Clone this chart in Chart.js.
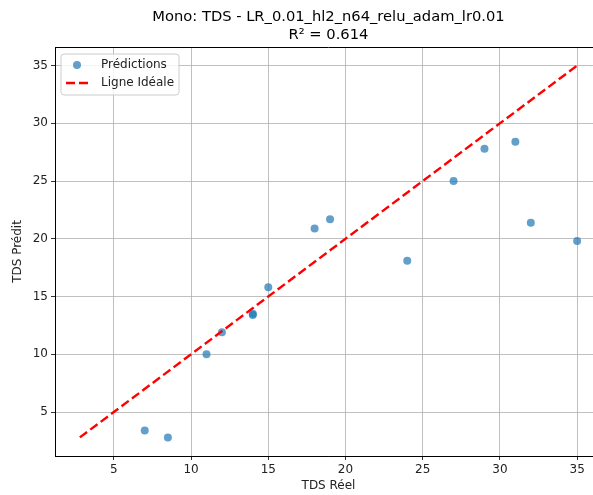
<!DOCTYPE html>
<html>
<head>
<meta charset="utf-8">
<script src="https://cdn.jsdelivr.net/npm/chart.js@4"></script>
<style>
  html, body { margin: 0; padding: 0; background: #fff; overflow: hidden; }
  #wrap { position: relative; width: 610px; height: 495px; }
</style>
</head>
<body>
<div id="wrap"><canvas id="chart" width="610" height="495"></canvas></div>
<script>
const titleLines = ["Mono: TDS - LR_0.01_hl2_n64_relu_adam_lr0.01", "R² = 0.614"];
const xLabel = "TDS Réel";
const yLabel = "TDS Prédit";
const legendLabels = ["Prédictions", "Ligne Idéale"];

// values
const actual    = [7, 8.5, 11, 12, 14, 14, 15, 18, 19, 24, 27, 29, 31, 32, 35];
const predicted = [3.4, 2.8, 10.0, 11.9, 13.4, 13.5, 15.8, 20.9, 21.7, 18.1, 25.0, 27.8, 28.4, 21.4, 19.8];
const idealEnds = [2.8, 35];
const xTicks = [5, 10, 15, 20, 25, 30, 35];
const yTicks = [5, 10, 15, 20, 25, 30, 35];
const axisMin = 1.19, axisMax = 36.61;

const FONT = "'DejaVu Sans', sans-serif";
const blue = "rgba(31,119,180,0.7)";

// title + legend + top/right spines
const decor = {
  id: "decor",
  afterDraw(chart) {
    const { ctx, chartArea: a } = chart;
    ctx.save();
    ctx.strokeStyle = "#000";
    ctx.lineWidth = 1;
    ctx.beginPath();
    ctx.moveTo(a.left, a.top + 0.5);
    ctx.lineTo(a.right, a.top + 0.5);
    ctx.lineTo(a.right, a.bottom);
    ctx.stroke();

    ctx.fillStyle = "#000";
    ctx.font = "14.7px " + FONT;
    ctx.textAlign = "center";
    ctx.textBaseline = "middle";
    const cx = (a.left + a.right) / 2;
    ctx.fillText(titleLines[0], cx, 17);
    ctx.fillText(titleLines[1], cx, 35);

    // legend box
    const bx = 61, by = 54, bw = 118, bh = 41, r = 3;
    ctx.beginPath();
    ctx.moveTo(bx + r, by);
    ctx.arcTo(bx + bw, by, bx + bw, by + bh, r);
    ctx.arcTo(bx + bw, by + bh, bx, by + bh, r);
    ctx.arcTo(bx, by + bh, bx, by, r);
    ctx.arcTo(bx, by, bx + bw, by, r);
    ctx.closePath();
    ctx.fillStyle = "rgba(255,255,255,0.8)";
    ctx.fill();
    ctx.strokeStyle = "#cccccc";
    ctx.lineWidth = 1;
    ctx.stroke();

    ctx.beginPath();
    ctx.arc(77, 65, 4, 0, Math.PI * 2);
    ctx.fillStyle = blue;
    ctx.fill();

    ctx.beginPath();
    ctx.setLineDash([9, 4]);
    ctx.strokeStyle = "#ff0000";
    ctx.lineWidth = 2.4;
    ctx.moveTo(66, 83);
    ctx.lineTo(89, 83);
    ctx.stroke();
    ctx.setLineDash([]);

    ctx.fillStyle = "#222";
    ctx.font = "12px " + FONT;
    ctx.textAlign = "left";
    ctx.fillText(legendLabels[0], 101, 65);
    ctx.fillText(legendLabels[1], 101, 83);
    ctx.restore();
  }
};

const axisCommon = {
  type: "linear",
  min: axisMin,
  max: axisMax,
  border: { color: "#000", width: 1 },
  grid: { color: "#b0b0b0", lineWidth: 0.8, tickLength: 4, tickColor: "#000" },
  ticks: { color: "#222", font: { family: FONT, size: 12 }, padding: 3 },
};

new Chart(document.getElementById("chart"), {
  type: "scatter",
  data: {
    datasets: [
      {
        label: legendLabels[1],
        type: "line",
        data: idealEnds.map(v => ({ x: v, y: v })),
        borderColor: "#ff0000",
        borderWidth: 2.4,
        borderDash: [9, 4],
        pointRadius: 0,
        fill: false,
        order: 0,
      },
      {
        label: legendLabels[0],
        data: actual.map((v, i) => ({ x: v, y: predicted[i] })),
        backgroundColor: blue,
        borderWidth: 0,
        pointRadius: 4,
        order: 1,
      },
    ],
  },
  options: {
    responsive: false,
    animation: false,
    layout: { padding: { top: 47, right: 8, left: 0, bottom: 0 } },
    plugins: { legend: { display: false }, title: { display: false }, tooltip: { enabled: false } },
    scales: {
      x: {
        ...axisCommon,
        title: { display: true, text: xLabel, color: "#222", font: { family: FONT, size: 12 }, padding: { top: 0, bottom: 2 } },
        afterBuildTicks: s => { s.ticks = xTicks.map(v => ({ value: v })); },
        afterFit: s => { s.height = 39; },
      },
      y: {
        ...axisCommon,
        title: { display: true, text: yLabel, color: "#222", font: { family: FONT, size: 12 }, padding: { top: 11, bottom: 0 } },
        afterBuildTicks: s => { s.ticks = yTicks.map(v => ({ value: v })); },
        afterFit: s => { s.width = 55; },
      },
    },
  },
  plugins: [decor],
});
</script>
</body>
</html>
